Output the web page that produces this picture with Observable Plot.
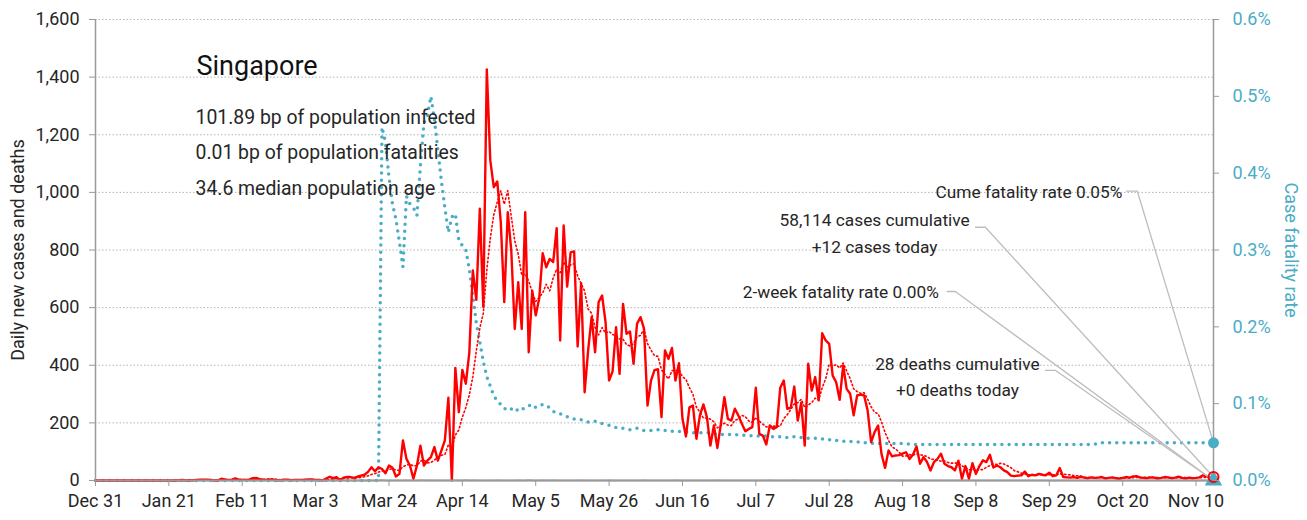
<!DOCTYPE html>
<html>
<head>
<meta charset="utf-8">
<script src="https://cdn.jsdelivr.net/npm/d3@7"></script>
<script src="https://cdn.jsdelivr.net/npm/@observablehq/plot@0.6"></script>
<style>
  html, body { margin: 0; padding: 0; background: #fff; }
  #chart svg { display: block; }
</style>
</head>
<body>
<div id="chart"></div>
<script>
// ---------------- DATA ----------------
const startDate = "2019-12-31";

// daily new cases, one value per day from Dec 31 2019 to Nov 15 2020
const dailyCases = [
  0,0,0,0,0,0,0,0,0,0,
  0,0,0,0,0,0,0,0,0,0,
  0,0,0,0,1,2,0,1,1,2,
  3,3,3,2,0,0,6,4,2,3,
  7,3,2,2,3,8,9,5,3,2,
  4,3,1,1,3,3,1,2,2,2,
  3,4,4,2,2,0,7,13,8,12,
  0,10,12,12,9,13,17,20,30,46,
  32,46,40,25,52,44,14,23,139,75,
  52,6,52,121,52,69,81,116,69,104,
  139,287,0,391,237,384,336,445,729,627,
  943,602,1427,1111,1018,1038,897,619,931,799,
  526,688,526,931,445,659,573,632,789,740,
  769,758,876,486,885,673,792,795,465,685,
  306,451,567,445,619,642,549,347,379,532,
  370,613,509,517,405,544,567,527,260,347,
  383,386,220,451,422,460,347,407,214,153,
  254,260,145,226,264,220,121,191,113,197,
  289,214,208,249,226,197,171,179,185,322,
  162,156,125,191,179,185,322,347,249,252,
  326,208,270,121,405,312,359,278,511,486,
  474,364,341,280,399,318,301,226,295,298,
  295,243,133,168,191,90,44,104,84,87,
  88,93,98,75,90,118,58,81,64,35,
  64,75,93,58,50,46,35,69,6,50,
  6,60,23,50,70,64,89,45,52,46,
  35,29,17,15,17,18,31,15,20,18,
  23,20,18,27,15,18,43,12,11,10,
  12,9,13,10,8,11,9,10,12,7,
  9,11,8,6,9,12,10,14,15,10,
  9,8,11,10,7,9,12,11,8,10,
  13,9,7,10,8,9,11,18,14,10,
  12
];

// case fatality rate (percent), one value per day
const fatalityRatePct = [
  0,0,0,0,0,0,0,0,0,0,
  0,0,0,0,0,0,0,0,0,0,
  0,0,0,0,0,0,0,0,0,0,
  0,0,0,0,0,0,0,0,0,0,
  0,0,0,0,0,0,0,0,0,0,
  0,0,0,0,0,0,0,0,0,0,
  0,0,0,0,0,0,0,0,0,0,
  0,0,0,0,0,0,0,0,0,0,
  0,0,0.460,0.440,0.395,0.360,0.340,0.310,0.278,0.370,
  0.360,0.355,0.345,0.410,0.465,0.475,0.500,0.470,0.430,0.390,
  0.355,0.323,0.343,0.347,0.312,0.306,0.300,0.275,0.240,0.205,
  0.180,0.155,0.135,0.123,0.110,0.104,0.099,0.094,0.091,0.093,
  0.095,0.090,0.092,0.095,0.097,0.099,0.095,0.097,0.099,0.097,
  0.095,0.090,0.088,0.087,0.085,0.083,0.081,0.080,0.080,0.079,
  0.078,0.076,0.077,0.077,0.075,0.074,0.073,0.072,0.070,0.069,
  0.069,0.068,0.067,0.066,0.067,0.068,0.066,0.065,0.065,0.065,
  0.065,0.066,0.065,0.065,0.064,0.064,0.064,0.064,0.063,0.063,
  0.062,0.062,0.062,0.062,0.062,0.062,0.062,0.061,0.060,0.060,
  0.060,0.060,0.060,0.060,0.059,0.059,0.059,0.059,0.058,0.058,
  0.058,0.058,0.058,0.057,0.057,0.057,0.057,0.056,0.056,0.056,
  0.057,0.057,0.056,0.056,0.055,0.055,0.055,0.054,0.054,0.053,
  0.053,0.053,0.052,0.052,0.051,0.051,0.051,0.050,0.050,0.050,
  0.049,0.049,0.049,0.048,0.048,0.048,0.048,0.048,0.048,0.048,
  0.048,0.048,0.048,0.047,0.047,0.047,0.047,0.047,0.047,0.047,
  0.047,0.047,0.047,0.047,0.047,0.047,0.047,0.047,0.047,0.047,
  0.047,0.047,0.047,0.047,0.047,0.047,0.047,0.047,0.047,0.047,
  0.047,0.047,0.047,0.047,0.047,0.047,0.047,0.047,0.047,0.047,
  0.047,0.047,0.047,0.047,0.047,0.047,0.047,0.047,0.047,0.047,
  0.047,0.047,0.047,0.047,0.047,0.047,0.047,0.049,0.049,0.049,
  0.049,0.049,0.049,0.049,0.049,0.049,0.049,0.049,0.049,0.049,
  0.049,0.049,0.049,0.049,0.049,0.049,0.049,0.049,0.049,0.049,
  0.049,0.049,0.049,0.049,0.049,0.049,0.049,0.049,0.049,0.049,
  0.049
];

// daily deaths (days since start, count); all other days 0
const deathDays   = [82, 89, 93, 94, 96, 102, 103, 106, 108, 115, 121, 124, 128, 131, 139, 147, 157, 166, 178, 193, 200, 215, 230, 287];
const deathCounts = [ 2,  1,  1,  1,  1,   1,   1,   2,   1,   1,   1,   2,   1,   1,   1,   1,   1,   1,   1,   1,   1,   1,   1,   1];

const twoWeekFatalityRatePct = 0.00;

const xTickDates  = ["2019-12-31","2020-01-21","2020-02-11","2020-03-03","2020-03-24","2020-04-14","2020-05-05","2020-05-26",
                     "2020-06-16","2020-07-07","2020-07-28","2020-08-18","2020-09-08","2020-09-29","2020-10-20","2020-11-10"];
const xTickLabels = ["Dec 31","Jan 21","Feb 11","Mar 3","Mar 24","Apr 14","May 5","May 26",
                     "Jun 16","Jul 7","Jul 28","Aug 18","Sep 8","Sep 29","Oct 20","Nov 10"];
const yTicks      = [0, 200, 400, 600, 800, 1000, 1200, 1400, 1600];
const rateTicks   = [0, 0.1, 0.2, 0.3, 0.4, 0.5, 0.6];

const countryName = "Singapore";
const infoLines = ["101.89 bp of population infected", "0.01 bp of population fatalities", "34.6 median population age"];
const leftAxisTitle = "Daily new cases and deaths";
const rightAxisTitle = "Case fatality rate";
const annotationTexts = [
  "Cume fatality rate 0.05%",
  "58,114 cases cumulative\n+12 cases today",
  "2-week fatality rate 0.00%",
  "28 deaths cumulative\n+0 deaths today"
];

// ---------------- BUILD ----------------
const RED = "#ff0000", TEAL = "#4bacc6", AXIS = "#9a9a9a", TEXT = "#262626";
const yMax = 1600, rateMax = 0.6;
const k = yMax / rateMax;                       // left-axis units per percentage point
const t0 = Date.parse(startDate + "T00:00:00Z");
const dayDate = n => new Date(t0 + n * 864e5);

const deathsByDay = new Map(deathDays.map((d, i) => [d, deathCounts[i]]));
const rows = dailyCases.map((c, i) => ({
  date: dayDate(i),
  cases: c,
  deaths: deathsByDay.get(i) || 0,
  cfr: fatalityRatePct[i] * k
}));
const lastIndex = rows.length - 1;
const last = rows[lastIndex];

const xTicks = xTickDates.map(s => new Date(s + "T00:00:00Z"));
const tickLabelOf = new Map(xTicks.map((d, i) => [+d, xTickLabels[i]]));

// annotation layout (in data units: day index and left-axis value)
const annotationLayout = [
  {day: 293.9, value: 1000, anchor: "end",    lead: [295.1, 298.2, 1004], target: last.cfr},
  {day: 223.0, value: 866,  anchor: "middle", lead: [251.9, 254.7, 879],  target: last.cases},
  {day: 241.4, value: 651,  anchor: "end",    lead: [243.8, 246.1, 656],  target: twoWeekFatalityRatePct * k},
  {day: 246.7, value: 367,  anchor: "middle", lead: [271.9, 274.8, 382],  target: 0}
];
const annos = annotationLayout.map((a, i) => ({...a, text: annotationTexts[i], date: dayDate(a.day)}));
const leaders = annos.flatMap((a, i) => [
  {id: i, date: dayDate(a.lead[0]), v: a.lead[2]},
  {id: i, date: dayDate(a.lead[1]), v: a.lead[2]},
  {id: i, date: last.date, v: a.target}
]);

const annoFont = 17.3;

const chart = Plot.plot({
  width: 1307,
  height: 520,
  marginLeft: 95,
  marginRight: 94,
  marginTop: 19,
  marginBottom: 40,
  style: {fontFamily: "Roboto, 'Liberation Sans', sans-serif", fontSize: "18px", color: TEXT, background: "#fff", overflow: "visible"},
  x: {type: "utc", domain: [dayDate(0), last.date]},
  y: {domain: [0, yMax]},
  marks: [
    Plot.gridY(yTicks.filter(d => d > 0), {stroke: "#b4b4b4", strokeOpacity: 1, strokeWidth: 1, strokeDasharray: "1.5,2"}),

    // data lines
    Plot.lineY(rows, {x: "date", y: "deaths", stroke: "#bdbdbd", strokeWidth: 2}),
    Plot.lineY(rows, {x: "date", y: "cfr", stroke: TEAL, strokeWidth: 3.5, strokeDasharray: "0,7.2", strokeLinecap: "round"}),
    Plot.lineY(rows, Plot.windowY({k: 7, anchor: "end", reduce: "mean"}, {x: "date", y: "cases", stroke: RED, strokeWidth: 1.6, strokeDasharray: "1.4,2.6"})),
    Plot.lineY(rows, {x: "date", y: "cases", stroke: RED, strokeWidth: 2.4, strokeLinejoin: "round"}),

    // axis lines
    Plot.ruleX([dayDate(0)], {stroke: AXIS, strokeWidth: 1.5}),
    Plot.ruleX([last.date], {stroke: AXIS, strokeWidth: 1.5}),
    Plot.ruleY([0], {stroke: AXIS, strokeWidth: 2}),

    // leader lines
    Plot.line(leaders, {x: "date", y: "v", z: "id", stroke: "#bdbdbd", strokeWidth: 1.3}),

    // end markers
    Plot.dot([last], {x: "date", y: "cfr", r: 5.5, fill: TEAL}),
    Plot.dot([last], {x: "date", y: () => twoWeekFatalityRatePct * k, r: 6.5, symbol: "triangle", fill: TEAL}),
    Plot.dot([last], {x: "date", y: "cases", r: 5, stroke: RED, strokeWidth: 2, fill: "none"}),

    // axes
    Plot.axisY(yTicks, {anchor: "left", tickFormat: d3.format(","), tickSize: 6, tickPadding: 10, stroke: AXIS, fill: TEXT, fontSize: 18, label: null}),
    Plot.axisY(rateTicks.map(r => r * k), {anchor: "right", tickFormat: d => (d / k).toFixed(1) + "%", tickSize: 5, tickPadding: 14, stroke: AXIS, fill: TEAL, fontSize: 18, label: null}),
    Plot.axisX(xTicks, {anchor: "bottom", tickFormat: d => tickLabelOf.get(+d), tickSize: 6, tickPadding: 8, stroke: AXIS, fill: TEXT, fontSize: 18, label: null}),

    // axis titles
    Plot.text([leftAxisTitle], {frameAnchor: "left", dx: -77, rotate: -90, textAnchor: "middle", lineAnchor: "middle", fontSize: 18, fill: TEXT}),
    Plot.text([rightAxisTitle], {frameAnchor: "right", dx: 77, rotate: 90, textAnchor: "middle", lineAnchor: "middle", fontSize: 18, fill: TEAL}),

    // title block
    Plot.text([countryName], {frameAnchor: "top-left", dx: 101, dy: 36.8, textAnchor: "start", lineAnchor: "top", fontSize: 27, fontWeight: 400, fill: "#111"}),
    Plot.text([infoLines.join("\n")], {frameAnchor: "top-left", dx: 100, dy: 78.9, textAnchor: "start", lineAnchor: "top", fontSize: 19.4, lineHeight: 1.83, fill: TEXT}),

    // annotations
    Plot.text(annos.filter(a => a.anchor === "end"), {x: "date", y: "value", text: "text", textAnchor: "end", lineAnchor: "middle", fontSize: annoFont, fill: TEXT}),
    Plot.text(annos.filter(a => a.anchor === "middle"), {x: "date", y: "value", text: "text", textAnchor: "middle", lineAnchor: "middle", fontSize: annoFont, lineHeight: 1.52, fill: TEXT})
  ]
});

document.getElementById("chart").append(chart);
</script>
</body>
</html>
